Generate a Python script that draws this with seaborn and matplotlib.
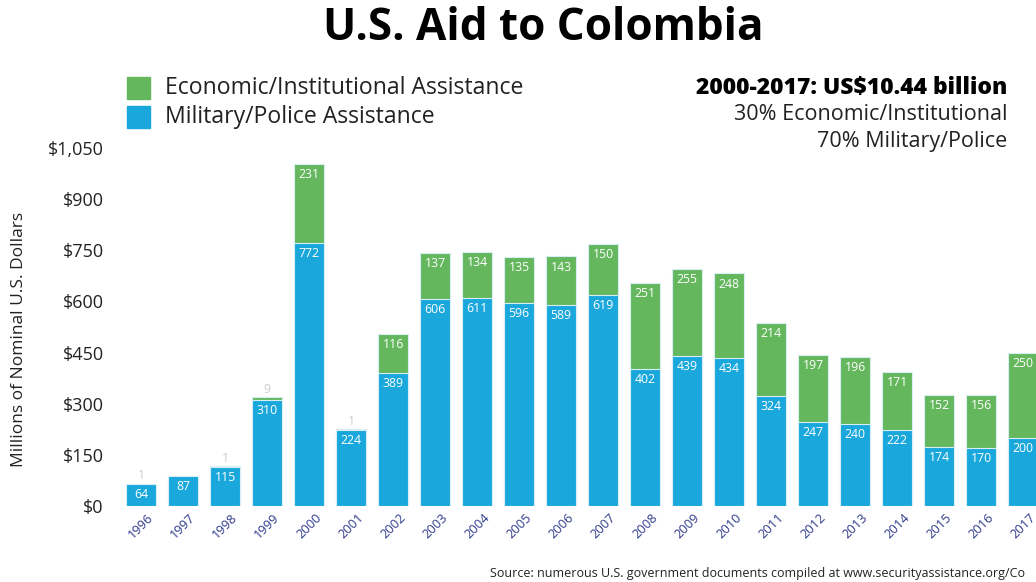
import numpy as np
import pandas as pd
import seaborn as sns
import matplotlib.pyplot as plt
from matplotlib.patches import Rectangle

years = [str(y) for y in range(1996, 2018)]
military = [64, 87, 115, 310, 772, 224, 389, 606, 611, 596, 589, 619,
            402, 439, 434, 324, 247, 240, 222, 174, 170, 200]
economic = [1, 0, 1, 9, 231, 1, 116, 137, 134, 135, 143, 150,
            251, 255, 248, 214, 197, 196, 171, 152, 156, 250]
yticks = [0, 150, 300, 450, 600, 750, 900, 1050]

blue = "#1aa8dc"
green = "#64b75d"
navy = "#2e3a8c"

df = pd.DataFrame({"year": years, "military": military, "economic": economic})
df["total"] = df["military"] + df["economic"]

sns.set_style("white")
plt.rcParams['font.family'] = ['Open Sans', 'DejaVu Sans']

fig = plt.figure(figsize=(10.36, 5.82), dpi=100)
ax = fig.add_axes([116/1036, 76/582, 920/1036, 358/582])

# total first (green), military on top (blue)
sns.barplot(data=df, x="year", y="total", color=green, width=0.72,
            edgecolor="#d8eef5", linewidth=0.8, saturation=1, ax=ax)
sns.barplot(data=df, x="year", y="military", color=blue, width=0.72,
            edgecolor="#d8eef5", linewidth=0.8, saturation=1, ax=ax)

ax.set_ylim(0, 1050)
ax.set_xlim(-0.6, 21.31)
ax.set_yticks(yticks)
ax.set_yticklabels(["${:,}".format(v) for v in yticks], fontsize=13, color="#222222")
ax.tick_params(axis="y", length=0, pad=9)
ax.tick_params(axis="x", length=0, pad=4, labelsize=9.3, labelcolor=navy, labelrotation=45)
ax.set_xlabel("")
ax.set_ylabel("Millions of Nominal U.S. Dollars", fontsize=12.5, color="#222222")
ax.yaxis.set_label_coords(-0.097, 0.464)
for s in ax.spines.values():
    s.set_visible(False)

# value labels
for i, row in df.iterrows():
    ax.text(i, row["military"] - 12, str(row["military"]), ha="center", va="top",
            color="white", fontsize=8.8)
    if row["economic"] >= 50:
        ax.text(i, row["total"] - 12, str(row["economic"]), ha="center", va="top",
                color="white", fontsize=8.8)
    elif row["economic"] > 0:
        ax.text(i, row["total"] + 5, str(row["economic"]), ha="center", va="bottom",
                color="#cccccc", fontsize=8.8)

fig.text(543/1036, 1 - 28/582, "U.S. Aid to Colombia", ha="center", va="center",
         fontsize=31.7, fontweight="bold", color="black")

# legend
fig.patches.append(Rectangle((127/1036, 1 - 99/582), 23/1036, 22/582,
                             transform=fig.transFigure, color=green))
fig.patches.append(Rectangle((127/1036, 1 - 128/582), 23/1036, 22/582,
                             transform=fig.transFigure, color=blue))
fig.text(165/1036, 1 - 88/582, "Economic/Institutional Assistance", va="center",
         fontsize=16.6, color="#222222")
fig.text(165/1036, 1 - 117/582, "Military/Police Assistance", va="center",
         fontsize=16.6, color="#222222")

fig.text(1007/1036, 1 - 88/582, "2000-2017: US$10.44 billion", ha="right", va="center",
         fontsize=16.5, fontweight="heavy", color="black")
fig.text(1007/1036, 1 - 115/582, "30% Economic/Institutional", ha="right", va="center",
         fontsize=15.5, color="#222222")
fig.text(1007/1036, 1 - 141/582, "70% Military/Police", ha="right", va="center",
         fontsize=15.5, color="#222222")

fig.text(490/1036, 1 - 574/582, "Source: numerous U.S. government documents compiled at www.securityassistance.org/Co",
         ha="left", va="center", fontsize=9.0, color="#222222")

fig.savefig("out.png", dpi=100)
